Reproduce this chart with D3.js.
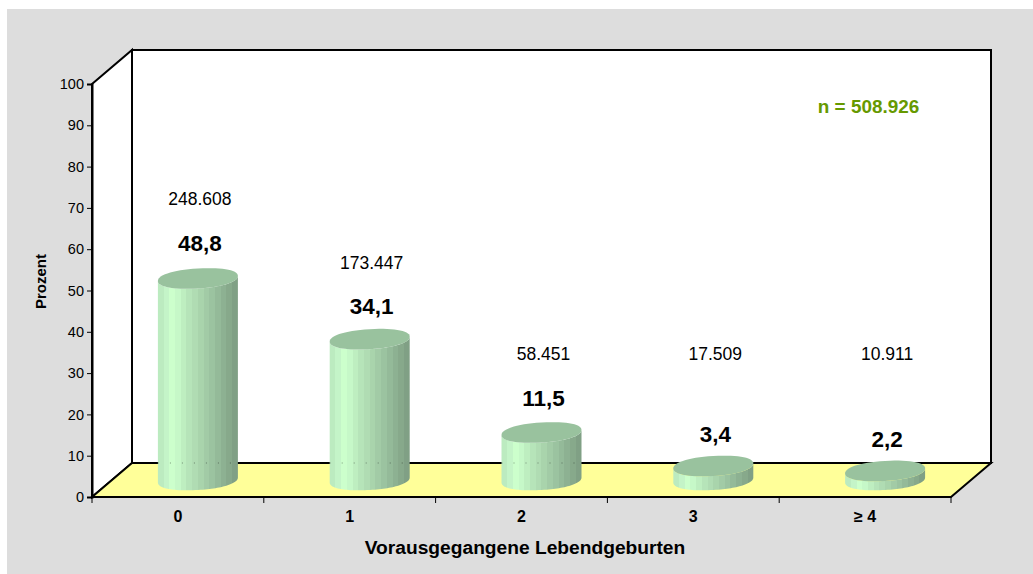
<!DOCTYPE html>
<html><head><meta charset="utf-8">
<script src="https://cdn.jsdelivr.net/npm/d3@7/dist/d3.min.js"></script>
<style>html,body{margin:0;padding:0;background:#fff}svg{display:block}text{font-family:"Liberation Sans",Arial,sans-serif;fill:#000}</style>
</head><body><div id="c"></div>
<script>
const categories=["0","1","2","3","≥ 4"];
const percent=[48.8,34.1,11.5,3.4,2.2];
const percentLabels=["48,8","34,1","11,5","3,4","2,2"];
const percentLabelLevels=[55.4,40.3,18.0,9.1,8.1];
const counts=["248.608","173.447","58.451","17.509","10.911"];
const countLevels=[66.6,51.0,29.1,29.1,29.1];
const yTicks=d3.range(0,101,10);
const facetColors=["#BCEBC0","#C4F4C8","#CCFFCC","#C6F8C8","#BEEEC0","#B6E4B9","#B0DCB3","#A9D4AC","#A2CBA6","#9BC3A0","#94BA99","#8DB192","#87A98B","#80A085"];

const W=1033,H=574;
const svg=d3.select("#c").append("svg").attr("width",W).attr("height",H);
const x=d3.scaleBand().domain(categories).range([92,951]).paddingInner(0).paddingOuter(0);
const y=d3.scaleLinear().domain([0,100]).range([497,84]);
const depthX=40,depthY=-34;

svg.append("rect").attr("x",7).attr("y",9).attr("width",W-7).attr("height",H-9).attr("fill","#DDDDDD");

const xL=x.range()[0],xR=x.range()[1],y0=y(0),y1=y(100);
const poly=(pts,fill)=>svg.append("polygon").attr("points",pts.map(p=>p.join(",")).join(" ")).attr("fill",fill).attr("stroke","#000").attr("stroke-width",2).attr("stroke-linejoin","miter");
poly([[xL+depthX,y1+depthY],[xR+depthX,y1+depthY],[xR+depthX,y0+depthY],[xL+depthX,y0+depthY]],"#fff");
poly([[xL,y1],[xL+depthX,y1+depthY],[xL+depthX,y0+depthY],[xL,y0]],"#fff");
poly([[xL,y0],[xR,y0],[xR+depthX,y0+depthY],[xL+depthX,y0+depthY]],"#FFFF99");

const defs=svg.append("defs");
const g=defs.append("linearGradient").attr("id","facets");
facetColors.forEach((c,i)=>{
  g.append("stop").attr("offset",i/facetColors.length).attr("stop-color",c);
  g.append("stop").attr("offset",(i+1)/facetColors.length).attr("stop-color",c);
});

const rx=40,ry=10,tilt=2.5,baseOffset=17,cxOffset=20,exp=0.92;
const baseY=y(0)-baseOffset;
const barH=d=>y(0)-y(d);
const cxOf=d=>x(d.c)+x.bandwidth()/2+cxOffset;
const lvl=v=>baseY-barH(v);
const sp=(v)=>Math.sign(v)*Math.pow(Math.abs(v),exp);
const edge=(cx,cy,t)=>[cx+rx*sp(Math.cos(t)),cy+ry*sp(Math.sin(t))-tilt*Math.cos(t)];
const arc=(cx,cy,a,b)=>d3.range(0,61).map(i=>edge(cx,cy,a+(b-a)*i/60));
const line=d3.line();
const bars=svg.append("g").selectAll("g").data(categories.map((c,i)=>({c,v:percent[i],i}))).join("g");
bars.append("path").attr("fill","url(#facets)").attr("d",d=>{
  const cx=cxOf(d),top=lvl(d.v);
  return line([...arc(cx,top,Math.PI,0),...arc(cx,baseY,0,Math.PI)])+"Z";
});
bars.filter(d=>lvl(d.v)<y0+depthY-10).append("line")
 .attr("x1",d=>cxOf(d)-rx).attr("x2",d=>cxOf(d)+rx).attr("y1",y0+depthY).attr("y2",y0+depthY)
 .attr("stroke","#000").attr("stroke-opacity",.2).attr("stroke-width",2).attr("stroke-dasharray","1 11");
bars.append("path").attr("fill","#99C29E").attr("d",d=>{
  const cx=cxOf(d),top=lvl(d.v);
  return line(arc(cx,top,0,2*Math.PI))+"Z";
});
bars.append("text").attr("text-anchor","middle").attr("font-size",22.5).attr("font-weight","bold")
 .attr("x",d=>cxOf(d)+2).attr("y",d=>lvl(percentLabelLevels[d.i])).text(d=>percentLabels[d.i]);
bars.append("text").attr("text-anchor","middle").attr("font-size",17.5)
 .attr("x",d=>cxOf(d)+2).attr("y",d=>lvl(countLevels[d.i])).text(d=>counts[d.i]);

const yAxis=d3.axisLeft(y).tickValues(yTicks).tickSize(5).tickPadding(3);
const ga=svg.append("g").attr("transform",`translate(${xL},0)`).call(yAxis);
ga.selectAll("text").attr("font-size",14.5).style("font-family",'"Liberation Sans",Arial,sans-serif');
ga.selectAll("line").attr("stroke","#000").attr("stroke-width",1);
ga.select(".domain").attr("stroke","#000").attr("stroke-width",2);

const xAxis=d3.axisBottom(x).tickSize(0).tickPadding(14);
const gx=svg.append("g").attr("transform",`translate(0,${y0})`).call(xAxis);
gx.select(".domain").remove();
gx.selectAll("text").attr("font-size",16).attr("font-weight","bold").style("font-family",'"Liberation Sans",Arial,sans-serif');
const bounds=[...categories.map(c=>x(c)),xR];
svg.append("g").selectAll("line").data(bounds).join("line").attr("x1",d=>d).attr("x2",d=>d).attr("y1",y0).attr("y2",y0+6).attr("stroke","#000");

svg.append("text").attr("x",525).attr("y",554).attr("text-anchor","middle").attr("font-size",19.2).attr("font-weight","bold").text("Vorausgegangene Lebendgeburten");
svg.append("text").attr("transform","translate(46,281.5) rotate(-90)").attr("text-anchor","middle").attr("font-size",15).attr("font-weight","bold").text("Prozent");
svg.append("text").attr("x",868.5).attr("y",113).attr("text-anchor","middle").attr("font-size",18.9).attr("font-weight","bold").style("fill","#669900").text("n = 508.926");
</script></body></html>
